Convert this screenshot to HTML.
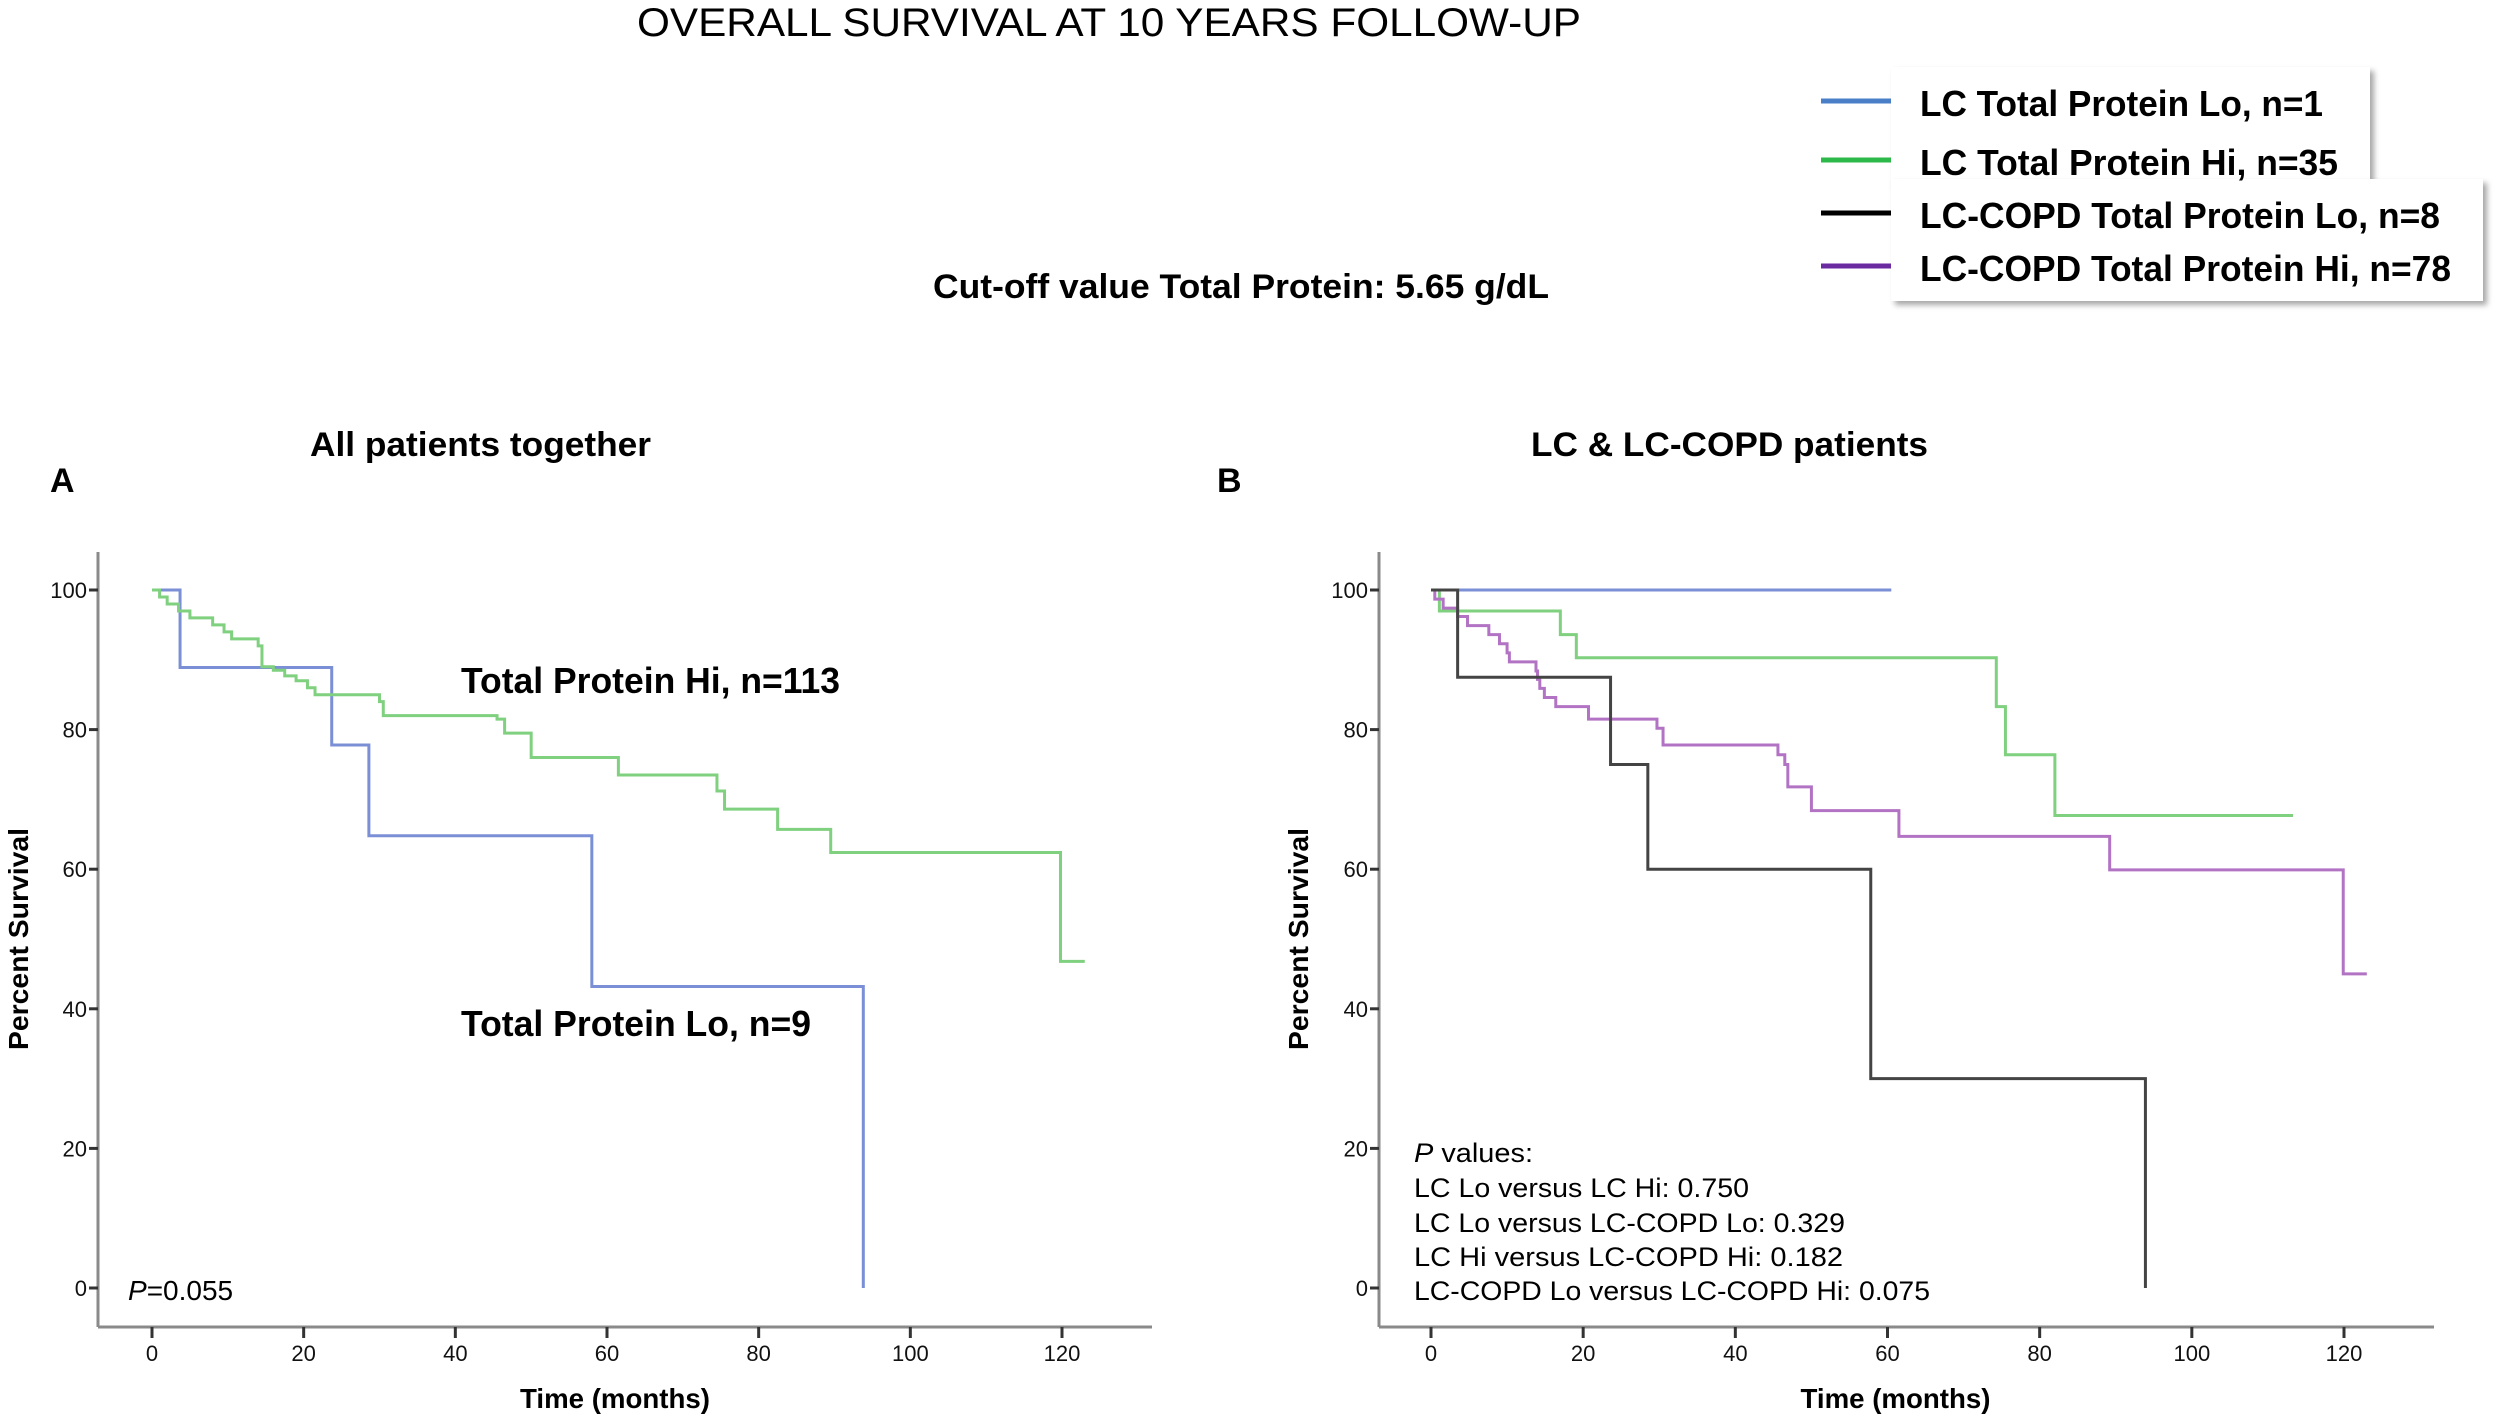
<!DOCTYPE html>
<html><head><meta charset="utf-8"><style>
html,body{margin:0;padding:0;background:#fff;}
svg{display:block;font-family:"Liberation Sans",Arial,sans-serif;}
</style></head><body>
<svg id="root" width="2508" height="1420" viewBox="0 0 2508 1420" xmlns="http://www.w3.org/2000/svg">
<defs>
<filter id="sh" x="-5%" y="-5%" width="115%" height="125%"><feDropShadow dx="4" dy="4" stdDeviation="3" flood-color="#000" flood-opacity="0.35"/></filter>
</defs>
<text x="637" y="36" font-size="40" textLength="944" lengthAdjust="spacingAndGlyphs">OVERALL SURVIVAL AT 10 YEARS FOLLOW-UP</text>
<text x="933" y="298" font-size="34" font-weight="bold" textLength="616" lengthAdjust="spacingAndGlyphs">Cut-off  value Total Protein: 5.65 g/dL</text>

<g font-weight="bold">
<rect x="1891" y="67" width="479" height="117" fill="#fff" filter="url(#sh)"/>
<rect x="1891" y="179" width="592" height="122" fill="#fff" filter="url(#sh)"/>
<g><line x1="1821" y1="101" x2="1891" y2="101" stroke="#4a7fc8" stroke-width="5"/><text x="1920" y="116" font-size="36" textLength="403" lengthAdjust="spacingAndGlyphs">LC Total Protein Lo, n=1</text></g>
<g><line x1="1821" y1="160" x2="1891" y2="160" stroke="#2db84a" stroke-width="5"/><text x="1920" y="175" font-size="36" textLength="418" lengthAdjust="spacingAndGlyphs">LC Total Protein Hi, n=35</text></g>
<g><line x1="1821" y1="213" x2="1891" y2="213" stroke="#000" stroke-width="5"/><text x="1920" y="228" font-size="36" textLength="520" lengthAdjust="spacingAndGlyphs">LC-COPD  Total Protein Lo, n=8</text></g>
<g><line x1="1821" y1="266" x2="1891" y2="266" stroke="#6a2aa0" stroke-width="5"/><text x="1920" y="281" font-size="36" textLength="531" lengthAdjust="spacingAndGlyphs">LC-COPD  Total Protein Hi, n=78</text></g>
</g>

<text x="310" y="456" font-size="34" font-weight="bold" textLength="341" lengthAdjust="spacingAndGlyphs">All patients together</text>
<text x="50" y="492" font-size="34" font-weight="bold">A</text>
<text x="1531" y="456" font-size="34" font-weight="bold" textLength="397" lengthAdjust="spacingAndGlyphs">LC &amp; LC-COPD  patients</text>
<text x="1217" y="492" font-size="34" font-weight="bold">B</text>

<g id="panelA"></g>
<g id="panelB"></g>

<text x="461" y="693" font-size="36" font-weight="bold" textLength="379" lengthAdjust="spacingAndGlyphs">Total Protein Hi, n=113</text>
<text x="461" y="1036" font-size="36" font-weight="bold" textLength="350" lengthAdjust="spacingAndGlyphs">Total Protein Lo, n=9</text>
<text x="128" y="1300" font-size="28"><tspan font-style="italic">P</tspan>=0.055</text>

<g font-size="27">
<text x="1414" y="1162" textLength="119" lengthAdjust="spacingAndGlyphs"><tspan font-style="italic">P</tspan> values:</text>
<text x="1414" y="1197" textLength="335" lengthAdjust="spacingAndGlyphs">LC Lo versus LC Hi: 0.750</text>
<text x="1414" y="1232" textLength="431" lengthAdjust="spacingAndGlyphs">LC Lo versus LC-COPD Lo: 0.329</text>
<text x="1414" y="1266" textLength="429" lengthAdjust="spacingAndGlyphs">LC Hi versus  LC-COPD Hi: 0.182</text>
<text x="1414" y="1300" textLength="516" lengthAdjust="spacingAndGlyphs">LC-COPD  Lo versus LC-COPD Hi: 0.075</text>
</g>
</svg>
<script>
const xTicks = [0,20,40,60,80,100,120];
const yTicks = [0,20,40,60,80,100];
// Panel A
const aHiT = [0,1,2,3.5,5,8,9.5,10.5,14,14.5,16,17.5,19,20.5,21.5,30,30.5,45.5,46.5,50,61.5,74.5,75.5,82.5,89.5,119.8,123];
const aHiS = [100,99,98,97,96,95,94,93,92,89,88.5,87.7,87,86,85,84,82,81.5,79.5,76,73.5,71.2,68.6,65.7,62.4,46.8,46.8];
const aLoT = [0,3.7,23.7,28.6,58,93.8];
const aLoS = [100,88.9,77.8,64.8,43.2,0];
// Panel B
const bLcLoT = [0,60.5];
const bLcLoS = [100,100];
const bLcHiT = [0,1.1,17,19.1,74.3,75.5,82,113.3];
const bLcHiS = [100,97,93.6,90.3,83.3,76.4,67.7,67.7];
const bCopdLoT = [0,3.5,23.6,28.5,57.8,93.9];
const bCopdLoS = [100,87.5,75,60,30,0];
const bCopdHiT = [0,0.5,1.6,3.5,4.8,7.6,9,10,10.3,13.8,14,14.3,14.9,16.4,20.7,29.7,30.5,45.6,46.5,46.9,50,61.5,89.2,119.9,123];
const bCopdHiS = [100,98.7,97.4,96.2,94.9,93.6,92.3,91,89.7,88.4,87.2,85.9,84.6,83.3,81.5,80.2,77.8,76.4,75,71.8,68.4,64.7,59.9,45,45];

const NS='http://www.w3.org/2000/svg';
function mk(tag, attrs, parent){const e=document.createElementNS(NS,tag);for(const k in attrs)e.setAttribute(k,attrs[k]);parent.appendChild(e);return e;}

function drawPanel(g, axX, x0, x120, axRight, axLabelX, series){
  const y100=590, y0=1288, axTop=552, axBottom=1327;
  const sx = m => x0 + (x120-x0)*m/120;
  const sy = p => y0 - (y0-y100)*p/100;
  const yl = mk('line',{x1:axX,y1:axTop,x2:axX,y2:axBottom,stroke:'#8a8a8a','stroke-width':3},g);
  
  
  const xl = mk('line',{x1:axX,y1:axBottom,x2:axRight,y2:axBottom,stroke:'#8a8a8a','stroke-width':3},g);
  
  
  yTicks.forEach(v=>{
    const t = mk('line',{x1:axX-9,y1:sy(v),x2:axX,y2:sy(v),stroke:'#333','stroke-width':3},g);
    
    
    const tx = mk('text',{x:axX-11,y:sy(v)+8,'font-size':22,'text-anchor':'end',fill:'#111'},g);
    tx.textContent=v;
    
    
  });
  xTicks.forEach(v=>{
    const t = mk('line',{x1:sx(v),y1:axBottom,x2:sx(v),y2:axBottom+11,stroke:'#333','stroke-width':3},g);
    
    
    const tx = mk('text',{x:sx(v),y:axBottom+34,'font-size':22,'text-anchor':'middle',fill:'#111'},g);
    tx.textContent=v;
    
    
  });
  const xt = mk('text',{x:(sx(0)+sx(120))/2+8,y:1408,'font-size':28,'font-weight':'bold','text-anchor':'middle',textLength:190,lengthAdjust:'spacingAndGlyphs'},g);
  xt.textContent='Time (months)';
  
  
  const yt = mk('text',{x:0,y:0,'font-size':28,'font-weight':'bold','text-anchor':'middle',transform:`translate(${axLabelX},939) rotate(-90)`,textLength:222,lengthAdjust:'spacingAndGlyphs'},g);
  yt.textContent='Percent Survival';
  
  
  series.forEach(s=>{
    let d=`M${sx(s.t[0])},${sy(s.s[0])}`;
    for(let i=1;i<s.t.length;i++){ d+=` H${sx(s.t[i])} V${sy(s.s[i])}`; }
    const p = mk('path',{d:d,fill:'none',stroke:s.c,'stroke-width':3},g);
    
    
  });
}
drawPanel(document.getElementById('panelA'),98,152,1062,1152,28,[
  {t:aLoT,s:aLoS,c:'#7b8fd6',n:'curve-total-protein-lo'},
  {t:aHiT,s:aHiS,c:'#7fd07f',n:'curve-total-protein-hi'}
]);
drawPanel(document.getElementById('panelB'),1379,1431,2344,2434,1308,[
  {t:bLcLoT,s:bLcLoS,c:'#7b8fd6',n:'curve-lc-lo'},
  {t:bLcHiT,s:bLcHiS,c:'#7fd07f',n:'curve-lc-hi'},
  {t:bCopdHiT,s:bCopdHiS,c:'#b373c4',n:'curve-lc-copd-hi'},
  {t:bCopdLoT,s:bCopdLoS,c:'#444',n:'curve-lc-copd-lo'}
]);
</script>
</body></html>
